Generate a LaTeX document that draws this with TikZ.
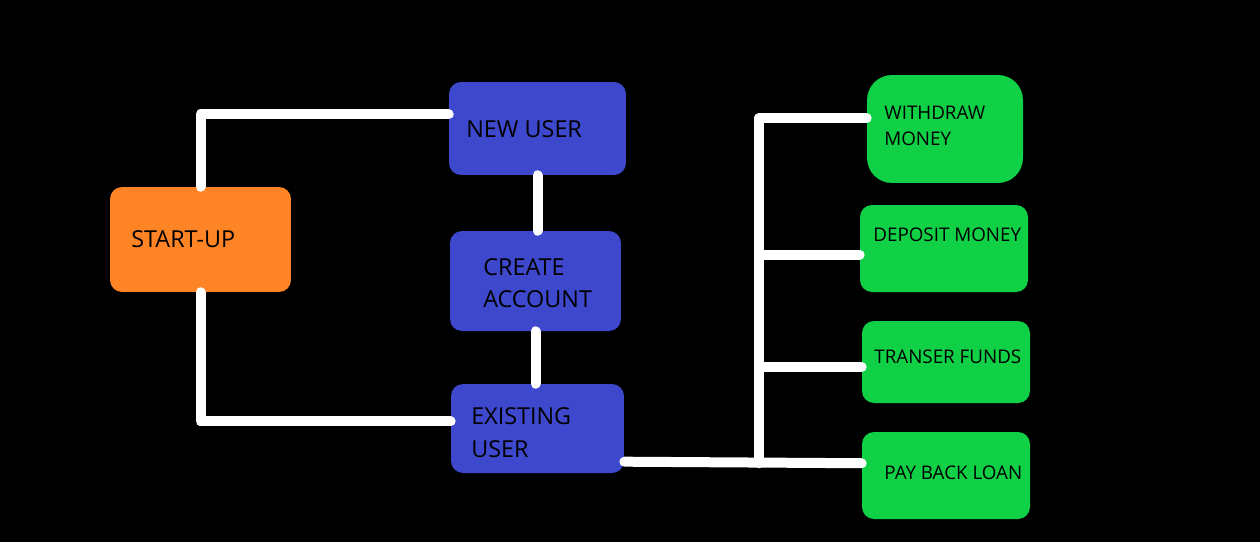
\documentclass[tikz,border=0pt]{standalone}
\usepackage{fontspec}
\setmainfont{Open Sans}
\usetikzlibrary{calc}
\definecolor{startorange}{RGB}{255,132,38}
\definecolor{userblue}{RGB}{61,72,204}
\definecolor{opgreen}{RGB}{16,208,69}
\begin{document}
\begin{tikzpicture}[x=0.02cm,y=-0.02cm,
  box/.style={rectangle,rounded corners=0.24cm,inner sep=0pt},
  wire/.style={draw=white,line width=0.2cm,line cap=round,line join=round},
  txt/.style={anchor=west,inner sep=0pt,align=left,font=\fontsize{13.3}{18.5}\selectfont},
  small/.style={anchor=west,inner sep=0pt,align=left,font=\fontsize{10.7}{14.7}\selectfont}]
\fill[black] (0,0) rectangle (1260,542);
\useasboundingbox (0,0) rectangle (1260,542);
% boxes
\node[box,fill=startorange,minimum width=3.62cm,minimum height=2.1cm] (start) at (200.5,239.5) {};
\node[box,fill=userblue,minimum width=3.54cm,minimum height=1.86cm] (newuser) at (537.5,128.5) {};
\node[box,fill=userblue,minimum width=3.42cm,minimum height=2cm] (create) at (535.5,281) {};
\node[box,fill=userblue,minimum width=3.46cm,minimum height=1.78cm] (exist) at (537.5,428.5) {};
\node[box,fill=opgreen,rounded corners=0.5cm,minimum width=3.12cm,minimum height=2.16cm] (withdraw) at (945,129) {};
\node[box,fill=opgreen,minimum width=3.36cm,minimum height=1.74cm] (deposit) at (944,248.5) {};
\node[box,fill=opgreen,minimum width=3.36cm,minimum height=1.64cm] (transfer) at (946,362) {};
\node[box,fill=opgreen,minimum width=3.36cm,minimum height=1.74cm] (pay) at (946,475.5) {};
% texts
\node[txt] (t-start) at (131,239) {START-UP};
\node[txt] (t-new) at (466,129) {NEW USER};
\node[txt] (t-create) at (483,283) {CREATE\\ACCOUNT};
\node[txt] (t-exist) at (471,432.5) {EXISTING\\USER};
\node[small] (t-withdraw) at (884,126) {WITHDRAW\\MONEY};
\node[small] (t-deposit) at (873,235) {DEPOSIT MONEY};
\node[small] (t-transfer) at (874,357) {TRANSER FUNDS};
\node[small] (t-pay) at (884,473) {PAY BACK LOAN};
% connectors
\coordinate (bus) at (759,0);
\coordinate (nu-in) at ($(newuser.north west)!0.35!(newuser.south west)$);
\coordinate (ex-in) at ($(exist.north west)!0.42!(exist.south west)$);
\coordinate (ex-out) at ($(exist.north east)!0.87!(exist.south east)$);
\coordinate (w-in) at ($(withdraw.north west)!0.4!(withdraw.south west)$);
\coordinate (d-in) at ($(deposit.north west)!0.57!(deposit.south west)$);
\coordinate (t-in) at ($(transfer.north west)!0.56!(transfer.south west)$);
\coordinate (p-in) at ($(pay.north west)!0.36!(pay.south west)$);
\draw[wire] (start.north) |- (nu-in);
\draw[wire] (start.south) |- (ex-in);
\draw[wire] (newuser.south) -- (newuser.south |- create.north);
\draw[wire] (create.south) -- (create.south |- exist.north);
\draw[wire] (ex-out) -- (p-in);
\draw[wire] (w-in -| bus) -- (p-in -| bus);
\draw[wire] (w-in -| bus) -- (w-in);
\draw[wire] (d-in -| bus) -- (d-in);
\draw[wire] (t-in -| bus) -- (t-in);
\end{tikzpicture}
\end{document}
